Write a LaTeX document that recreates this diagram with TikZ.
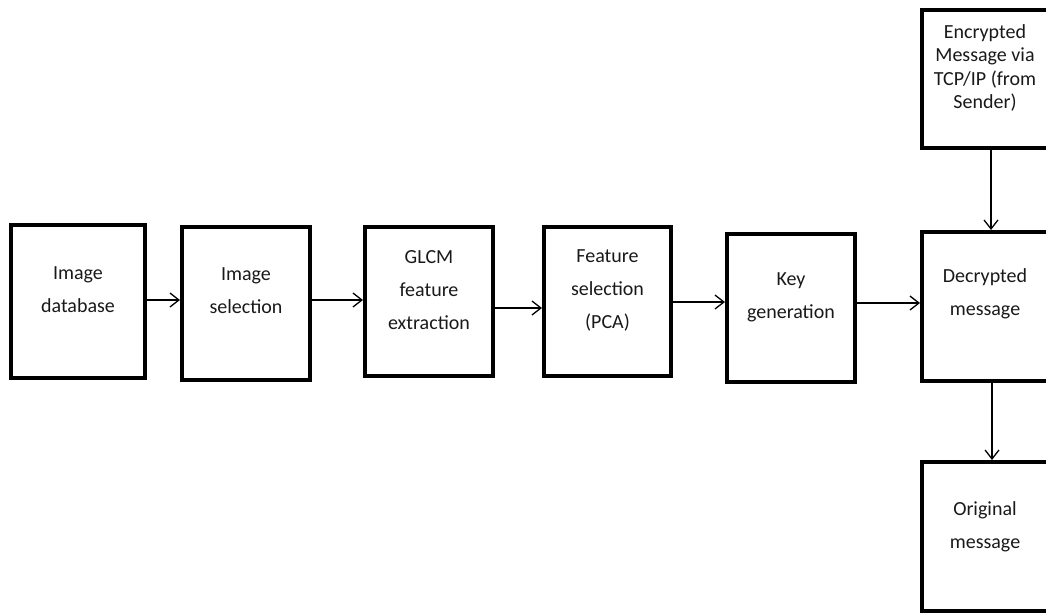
\documentclass[tikz,border=0pt]{standalone}
\usepackage{fontspec}
\setmainfont{Carlito}
\usetikzlibrary{arrows.meta,calc}
\begin{document}
\begin{tikzpicture}[x=1pt,y=-1pt,
  box/.style={draw=black,line width=4pt,inner sep=0pt},
  txt/.style={align=center,inner sep=0pt,text=black!90,font=\fontsize{20}{33}\selectfont},
  txttight/.style={txt,font=\fontsize{20}{23.5}\selectfont},
  arr/.style={line width=1.3pt,-{Straight Barb[length=9pt,width=14pt]}}]
\useasboundingbox (0,0) rectangle (1046,614);
\clip (0,0) rectangle (1046,614);

% blocks of the processing chain
\node[box,minimum width=134pt,minimum height=153pt] (db)   at (78,301.5)  {};
\node[box,minimum width=128pt,minimum height=153pt] (sel)  at (246,303.5) {};
\node[box,minimum width=128pt,minimum height=149pt] (glcm) at (429,301.5) {};
\node[box,minimum width=127pt,minimum height=149pt] (fs)   at (607.5,301.5) {};
\node[box,minimum width=128pt,minimum height=148pt] (key)  at (791,308)   {};
\node[box,minimum width=127pt,minimum height=138pt] (enc)  at (985.5,79)    {};
\node[box,minimum width=127pt,minimum height=149pt] (dec)  at (985.5,306.5) {};
\node[box,minimum width=127pt,minimum height=149pt] (orig) at (985.5,536.5) {};

% block labels, set a little above each block's centre
\node[txt] (tdb)   at ($(db.center)+(0,-11.5)$)   {Image\\database};
\node[txt] (tsel)  at ($(sel.center)+(0,-13)$)    {Image\\selection};
\node[txt] (tglcm) at ($(glcm.center)+(0,-11.5)$) {GLCM\\feature\\extraction};
\node[txt] (tfs)   at ($(fs.center)+(0,-11.5)$)   {Feature\\selection\\(PCA)};
\node[txt] (tkey)  at ($(key.center)+(0,-10.5)$)  {Key\\generation};
\node[txttight] (tenc) at ($(enc.center)+(-0.5,-11)$) {Encrypted\\Message via\\TCP/IP (from\\Sender)};
\node[txt] (tdec)  at ($(dec.center)+(-0.5,-12.5)$)  {Decrypted\\message};
\node[txt] (torig) at ($(orig.center)+(-0.5,-10)$)   {Original\\message};

% connector start points
\coordinate (a1) at ([yshift=1.5pt]db.east);
\coordinate (a2) at ([yshift=3.5pt]sel.east);
\coordinate (a3) at ([yshift=-6.5pt]glcm.east);
\coordinate (a4) at ([yshift=-0.5pt]fs.east);
\coordinate (a5) at ([yshift=5pt]key.east);
\coordinate (v1) at ([xshift=5.5pt]enc.south);
\coordinate (v2) at ([xshift=6.5pt]dec.south);

\draw[arr] (a1) -- (a1 -| sel.west);
\draw[arr] (a2) -- (a2 -| glcm.west);
\draw[arr] (a3) -- (a3 -| fs.west);
\draw[arr] (a4) -- (a4 -| key.west);
\draw[arr] (a5) -- (a5 -| dec.west);
\draw[arr] (v1) -- (v1 |- dec.north);
\draw[arr] (v2) -- (v2 |- orig.north);
\end{tikzpicture}
\end{document}
